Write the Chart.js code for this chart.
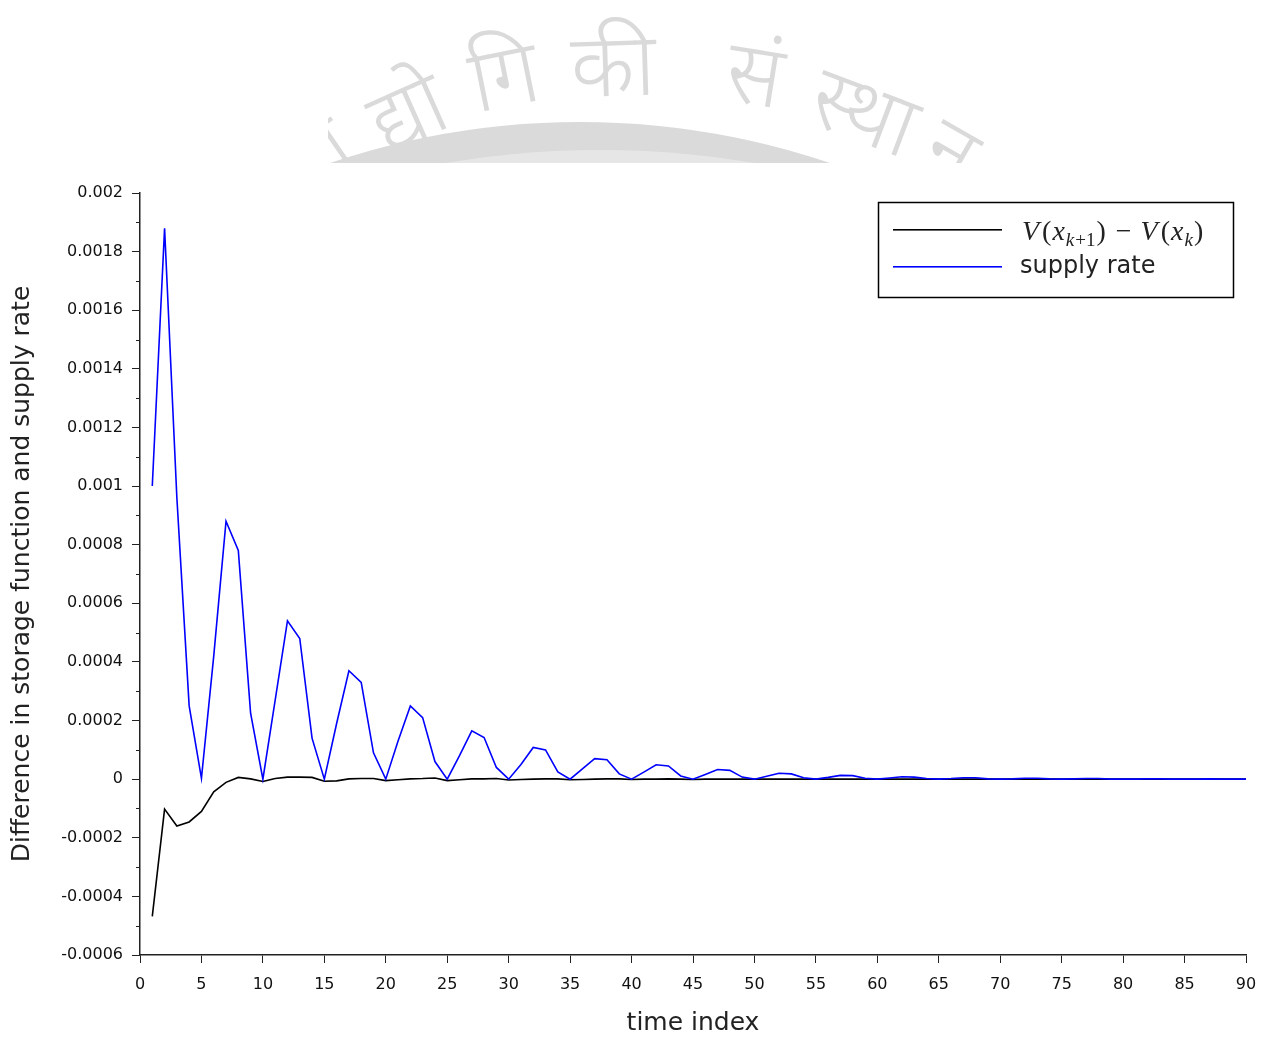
<!DOCTYPE html>
<html>
<head>
<meta charset="utf-8">
<script src="https://cdn.jsdelivr.net/npm/chart.js@4.4.0/dist/chart.umd.min.js"></script>
<style>
    body { margin: 0; background: #fff; }
    #chart { display: block; }
</style>
</head>
<body>
<canvas id="chart" width="1269" height="1039"></canvas>
<script>
// dati
let timeIndex = [
    1, 2, 3, 4, 5, 6, 7, 8, 9, 10,
    11, 12, 13, 14, 15, 16, 17, 18, 19, 20,
    21, 22, 23, 24, 25, 26, 27, 28, 29, 30,
    31, 32, 33, 34, 35, 36, 37, 38, 39, 40,
    41, 42, 43, 44, 45, 46, 47, 48, 49, 50,
    51, 52, 53, 54, 55, 56, 57, 58, 59, 60,
    61, 62, 63, 64, 65, 66, 67, 68, 69, 70,
    71, 72, 73, 74, 75, 76, 77, 78, 79, 80,
    81, 82, 83, 84, 85, 86, 87, 88, 89, 90
];

let storageDiff = [
    -0.000468, -0.000102, -0.00016, -0.000146, -0.00011,
    -0.000043, -0.000011, 0.000006, 0.000001, -0.000008,
    0.000002, 0.000007, 0.000007, 0.000006, -0.000007,
    -0.000006, 0.000001, 0.000002, 0.000002, -0.000005,
    -0.000002, 0.000001, 0.000002, 0.000004, -0.000005,
    -0.000002, 0.000001, 0.000001, 0.000002, -0.000003,
    -0.000001, 0.0, 0.000001, 0.000001, -0.000002,
    -0.000001, 0.0, 0.000001, 0.000001, -0.000001,
    0.0, 0.0, 0.000001, 0.0, -0.000001,
    0.0, 0.0, 0.0, 0.0, 0.0,
    0.0, 0.0, 0.0, 0.0, 0.0,
    0.0, 0.0, 0.0, 0.0, 0.0,
    0.0, 0.0, 0.0, 0.0, 0.0,
    0.0, 0.0, 0.0, 0.0, 0.0,
    0.0, 0.0, 0.0, 0.0, 0.0,
    0.0, 0.0, 0.0, 0.0, 0.0,
    0.0, 0.0, 0.0, 0.0, 0.0,
    0.0, 0.0, 0.0, 0.0, 0.0
];

let supplyRate = [
    0.001, 0.00188, 0.00096, 0.00025, 0.000003,
    0.00042, 0.00088, 0.00078, 0.000225, 0.0,
    0.00027, 0.00054, 0.00048, 0.00014, 0.0,
    0.00019, 0.00037, 0.00033, 0.00009, 0.0,
    0.00013, 0.00025, 0.00021, 0.00006, 0.0,
    0.00008, 0.000165, 0.000142, 0.00004, 0.0,
    0.00005, 0.000108, 0.0001, 0.000025, 0.0,
    0.000035, 0.00007, 0.000066, 0.000018, 0.0,
    0.000024, 0.000049, 0.000045, 0.000011, 0.0,
    0.000016, 0.000033, 0.00003, 0.000007, 0.0,
    0.00001, 0.00002, 0.000018, 0.000005, 0.0,
    0.000006, 0.000013, 0.000012, 0.000003, 0.0,
    0.000004, 0.000008, 0.000007, 0.000002, 0.0,
    0.000002, 0.000005, 0.000005, 0.000001, 0.0,
    0.000001, 0.000003, 0.000003, 0.000001, 0.0,
    0.000001, 0.000002, 0.000002, 0.0, 0.0,
    0.0, 0.000001, 0.000001, 0.0, 0.0,
    0.0, 0.000001, 0.0, 0.0, 0.0
];

let xTicks = [0, 5, 10, 15, 20, 25, 30, 35, 40, 45, 50, 55, 60, 65, 70, 75, 80, 85, 90];
let yTicks = [-0.0006, -0.0004, -0.0002, 0, 0.0002, 0.0004, 0.0006, 0.0008, 0.001,
    0.0012, 0.0014, 0.0016, 0.0018, 0.002];
let yMinorTicks = [-0.0005, -0.0003, -0.0001, 0.0001, 0.0003, 0.0005, 0.0007, 0.0009,
    0.0011, 0.0013, 0.0015, 0.0017, 0.0019];

let xTitle = 'time index';
let yTitle = 'Difference in storage function and supply rate';
let supplyLabel = 'supply rate';

let blackPts = timeIndex.map((t, i) => ({x: t, y: storageDiff[i]}));
let bluePts = timeIndex.map((t, i) => ({x: t, y: supplyRate[i]}));

let tickFont = {family: 'DejaVu Sans', size: 16};
let titleFont = {family: 'DejaVu Sans', size: 25};

// filigrana in alto (logo tagliato)
let watermark = {
    id: 'watermark',
    beforeDraw(chart) {
        let {ctx} = chart;
        ctx.save();
        ctx.beginPath();
        ctx.rect(328, 0, chart.width - 328, 163);
        ctx.clip();

        ctx.fillStyle = '#dadada';
        ctx.beginPath();
        ctx.arc(580, 905, 783, 0, Math.PI * 2);
        ctx.fill();
        ctx.fillStyle = '#e6e6e6';
        ctx.beginPath();
        ctx.arc(600, 1080, 930, 0, Math.PI * 2);
        ctx.fill();

        let parts = [
            ['प्रौ', 332, 182, -0.6],
            ['द्यो', 420, 140, -0.42],
            ['गि', 510, 106, -0.2],
            ['की', 614, 96, -0.03],
            ['सं', 750, 104, 0.16],
            ['स्था', 854, 140, 0.36],
            ['न', 936, 178, 0.52]
        ];
        ctx.fillStyle = '#dadada';
        ctx.font = '300 88px "Noto Sans", "DejaVu Sans", sans-serif';
        ctx.textAlign = 'center';
        ctx.textBaseline = 'alphabetic';
        for (let p of parts) {
            ctx.save();
            ctx.translate(p[1], p[2]);
            ctx.rotate(p[3]);
            ctx.fillText(p[0], 0, 0);
            ctx.restore();
        }
        ctx.restore();
    }
};

// tacche minori asse y e legenda disegnata a mano
let extras = {
    id: 'extras',
    afterDraw(chart) {
        let {ctx} = chart;
        let yScale = chart.scales.y;
        let left = chart.chartArea.left;

        ctx.save();
        ctx.strokeStyle = '#222';
        ctx.lineWidth = 1;
        for (let v of yMinorTicks) {
            let py = Math.round(yScale.getPixelForValue(v)) + 0.5;
            ctx.beginPath();
            ctx.moveTo(left - 4, py);
            ctx.lineTo(left, py);
            ctx.stroke();
        }

        // box legenda
        ctx.fillStyle = '#fff';
        ctx.fillRect(878, 202, 355, 95);
        ctx.strokeStyle = '#000';
        ctx.lineWidth = 1.5;
        ctx.strokeRect(878.5, 202.5, 355, 95);

        ctx.fillStyle = '#000';
        ctx.fillRect(893, 229, 109, 1.6);
        ctx.fillStyle = '#0000ff';
        ctx.fillRect(893, 266, 109, 1.6);

        // V(x_{k+1}) - V(x_k)
        let big = '28px "Liberation Serif"';
        let bigI = 'italic 28px "Liberation Serif"';
        let smallI = 'italic 19px "Liberation Serif"';
        let small = '19px "Liberation Serif"';
        let math = [
            ['V', bigI, 0, 3], ['(', big, 0, 1], ['x', bigI, 0, 1], ['k', smallI, 6, 1], ['+1', small, 6, 1],
            [')', big, 0, 1], ['\u2212', big, 0, 0], ['V', bigI, 0, 3], ['(', big, 0, 1], ['x', bigI, 0, 1],
            ['k', smallI, 6, 1], [')', big, 0, 0]
        ];
        ctx.fillStyle = '#222';
        ctx.textAlign = 'left';
        ctx.textBaseline = 'alphabetic';
        let mx = 1022;
        for (let m of math) {
            ctx.font = m[1];
            if (m[0] == '\u2212') mx += 9;
            ctx.fillText(m[0], mx, 240 + m[2]);
            mx += ctx.measureText(m[0]).width + m[3];
            if (m[0] == '\u2212') mx += 9;
        }

        ctx.font = '24px "DejaVu Sans"';
        ctx.textBaseline = 'middle';
        ctx.fillText(supplyLabel, 1020, 267);
        ctx.restore();
    }
};

let ctx = document.getElementById('chart').getContext('2d');

let chart = new Chart(ctx, {
    type: 'line',
    data: {
        datasets: [
            {
                label: 'V(x_{k+1}) - V(x_k)',
                data: blackPts,
                borderColor: '#000',
                borderWidth: 1.6,
                pointRadius: 0,
                tension: 0,
                order: 1
            },
            {
                label: supplyLabel,
                data: bluePts,
                borderColor: '#0000ff',
                borderWidth: 1.6,
                pointRadius: 0,
                tension: 0,
                order: 0
            }
        ]
    },
    options: {
        responsive: false,
        animation: false,
        events: [],
        layout: {padding: {left: 0, top: 193, right: 23, bottom: 0}},
        plugins: {
            legend: {display: false},
            tooltip: {enabled: false}
        },
        scales: {
            x: {
                type: 'linear',
                min: 0,
                max: 90,
                afterFit: s => { s.height = 84; },
                afterBuildTicks: s => { s.ticks = xTicks.map(v => ({value: v})); },
                ticks: {
                    font: tickFont,
                    color: '#111',
                    padding: 12,
                    maxRotation: 0,
                    autoSkip: false,
                    callback: v => String(v)
                },
                grid: {
                    drawOnChartArea: false,
                    drawTicks: true,
                    tickLength: 8,
                    tickColor: '#222',
                    tickWidth: 1
                },
                border: {display: true, color: '#222', width: 1.5},
                title: {
                    display: true,
                    text: xTitle,
                    font: titleFont,
                    color: '#222',
                    padding: {top: 0, bottom: 1}
                }
            },
            y: {
                type: 'linear',
                min: -0.0006,
                max: 0.002,
                afterFit: s => { s.width = 140; },
                afterBuildTicks: s => { s.ticks = yTicks.map(v => ({value: v})); },
                ticks: {
                    font: tickFont,
                    color: '#111',
                    padding: 9,
                    autoSkip: false,
                    callback: v => String(parseFloat(v.toFixed(4)))
                },
                grid: {
                    drawOnChartArea: false,
                    drawTicks: true,
                    tickLength: 8,
                    tickColor: '#222',
                    tickWidth: 1
                },
                border: {display: true, color: '#222', width: 1.5},
                title: {
                    display: true,
                    text: yTitle,
                    font: titleFont,
                    color: '#222',
                    padding: {top: 7, bottom: 0}
                }
            }
        }
    },
    plugins: [watermark, extras]
});
</script>
</body>
</html>
